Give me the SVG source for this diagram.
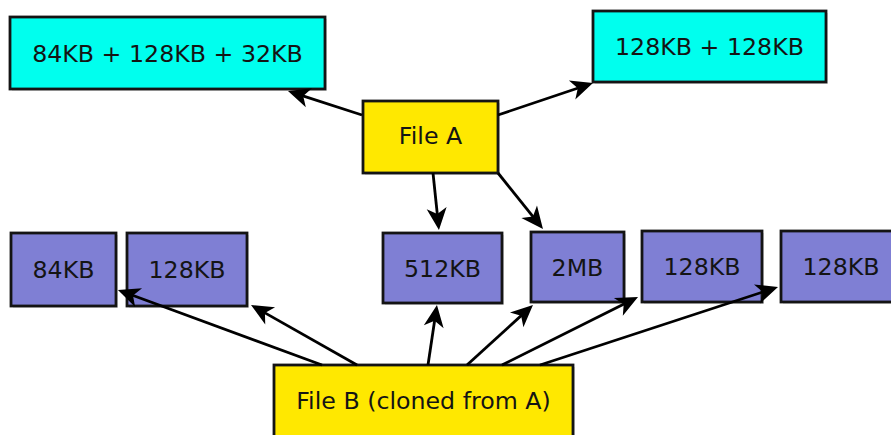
<svg xmlns="http://www.w3.org/2000/svg" width="891" height="435" viewBox="0 0 891 435">
<style>
.box{stroke:#141414;stroke-width:2.8}
.shadow{fill:#000;opacity:0.12}
.cyan{fill:#00ffee}
.yellow{fill:#ffe800}
.purple{fill:#7f7fd4}
text{font-family:"DejaVu Sans",Verdana,sans-serif;font-size:23.7px;fill:#141414;text-anchor:middle}
.edge{stroke:#000;stroke-width:2.8;fill:none;marker-end:url(#ah)}
</style>
<defs>
<marker id="ah" markerUnits="userSpaceOnUse" markerWidth="26" markerHeight="24" viewBox="-8 -12 26 24" refX="2" refY="0" orient="auto">
<path d="M16,0 L-6,-10 L0,0 L-6,10 Z" fill="#000"/>
</marker>
</defs>
<rect width="891" height="435" fill="#fff"/>
<g id="box-top-left">
<rect class="shadow" x="12" y="19" width="315" height="72"/>
<rect class="box cyan" x="10" y="17" width="315" height="72"/>
<text x="167.5" y="61.5">84KB + 128KB + 32KB</text>
</g>
<g id="box-top-right">
<rect class="shadow" x="595" y="13" width="233" height="71"/>
<rect class="box cyan" x="593" y="11" width="233" height="71"/>
<text x="709.5" y="55">128KB + 128KB</text>
</g>
<g id="file-a">
<rect class="shadow" x="365" y="103" width="135" height="72"/>
<rect class="box yellow" x="363" y="101" width="135" height="72"/>
<text x="430.5" y="144">File A</text>
</g>
<g id="blk-84">
<rect class="shadow" x="13" y="235" width="105" height="73"/>
<rect class="box purple" x="11" y="233" width="105" height="73"/>
<text x="63.5" y="278">84KB</text>
</g>
<g id="blk-128a">
<rect class="shadow" x="129" y="235" width="120" height="73"/>
<rect class="box purple" x="127" y="233" width="120" height="73"/>
<text x="187" y="278">128KB</text>
</g>
<g id="blk-512">
<rect class="shadow" x="385" y="235" width="119" height="70"/>
<rect class="box purple" x="383" y="233" width="119" height="70"/>
<text x="442.5" y="277">512KB</text>
</g>
<g id="blk-2mb">
<rect class="shadow" x="533" y="234" width="93" height="70"/>
<rect class="box purple" x="531" y="232" width="93" height="70"/>
<text x="577.5" y="275.5">2MB</text>
</g>
<g id="blk-128b">
<rect class="shadow" x="644" y="233" width="120" height="71"/>
<rect class="box purple" x="642" y="231" width="120" height="71"/>
<text x="702" y="275">128KB</text>
</g>
<g id="blk-128c">
<rect class="shadow" x="783" y="233" width="120" height="71"/>
<rect class="box purple" x="781" y="231" width="120" height="71"/>
<text x="841" y="275">128KB</text>
</g>
<g id="file-b">
<rect class="shadow" x="276" y="367" width="299" height="72"/>
<rect class="box yellow" x="274" y="365" width="299" height="72"/>
<text x="423.5" y="408.5">File B (cloned from A)</text>
</g>
<g id="connectors">
<line class="edge" x1="362" y1="115" x2="301.3" y2="95.3"/>
<line class="edge" x1="498" y1="115" x2="579.7" y2="87.5"/>
<line class="edge" x1="433" y1="173" x2="437.5" y2="216.1"/>
<line class="edge" x1="498" y1="173" x2="534.2" y2="218.1"/>
<line class="edge" x1="322" y1="365" x2="131.1" y2="294.8"/>
<line class="edge" x1="357" y1="365" x2="263.2" y2="311.9"/>
<line class="edge" x1="428" y1="365" x2="434.9" y2="318.8"/>
<line class="edge" x1="467" y1="365" x2="522.6" y2="314.4"/>
<line class="edge" x1="502" y1="365" x2="625.5" y2="303.3"/>
<line class="edge" x1="540" y1="365" x2="764.7" y2="291.4"/>
</g>
</svg>
